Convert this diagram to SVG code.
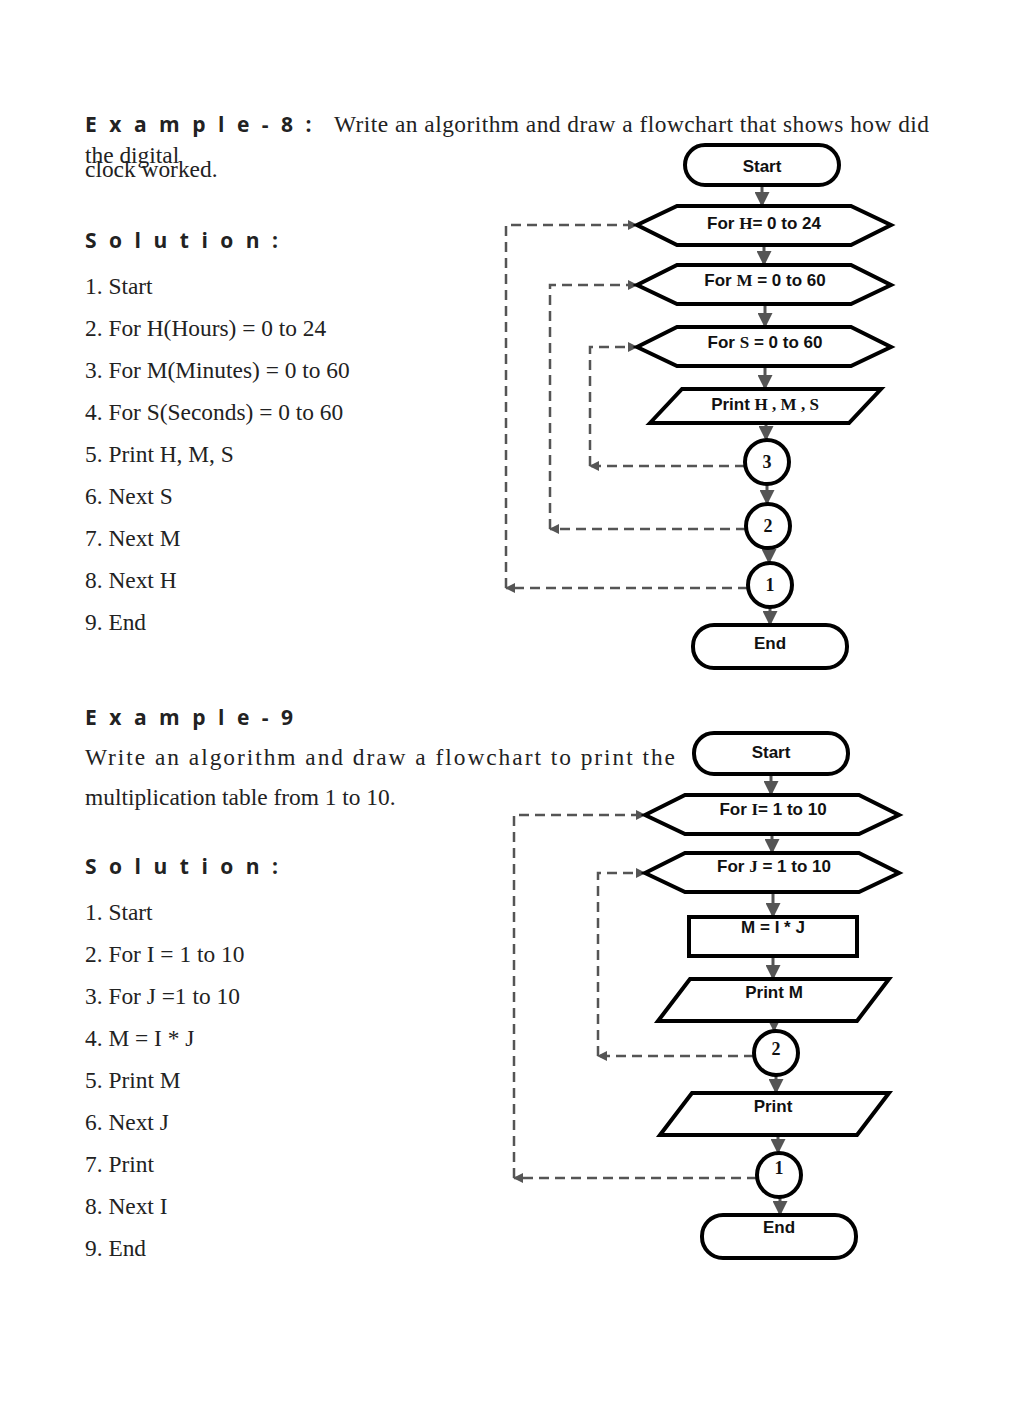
<svg xmlns="http://www.w3.org/2000/svg" width="1024" height="1408" viewBox="0 0 1024 1408">
<style>
.h{font-family:"Open Sans","DejaVu Sans",sans-serif;font-weight:bold;font-size:21px;letter-spacing:12.5px;fill:#222}
.b{font-family:"Liberation Serif",serif;font-size:23.4px;fill:#222}
.n{fill:#fff;stroke:#000;stroke-width:4}
.t{font-family:"Liberation Sans",Arial,sans-serif;font-weight:bold;font-size:17px;text-anchor:middle;fill:#111}
.c{font-family:"Liberation Serif",serif;font-weight:bold;font-size:18px;text-anchor:middle;fill:#111}
.a{stroke:#555;stroke-width:3;fill:none;marker-end:url(#ah)}
.d{stroke:#555;stroke-width:2.5;fill:none;stroke-dasharray:10,6}
</style>
<defs>
<marker id="ah" markerWidth="5" markerHeight="5" refX="4" refY="2.5" orient="auto"><path d="M0,0L5,2.5L0,5z" fill="#555"/></marker>
<marker id="dh" markerWidth="10" markerHeight="10" refX="9" refY="5" orient="auto" markerUnits="userSpaceOnUse"><path d="M0,0L10,5L0,10z" fill="#555"/></marker>
</defs>
<rect width="1024" height="1408" fill="#fff"/>
<g id="text">
<text x="85" y="132" class="h">Example-8:</text>
<text x="334" y="132" class="b" textLength="595" lengthAdjust="spacing">Write an algorithm and draw a flowchart that shows how did</text>
<text x="85" y="163" class="b">the digital</text>
<text x="85" y="177" class="b">clock worked.</text>
<text x="85" y="248" class="h">Solution:</text>
<text x="85" y="294" class="b">1. Start</text>
<text x="85" y="336" class="b">2. For H(Hours) = 0 to 24</text>
<text x="85" y="378" class="b">3. For M(Minutes) = 0 to 60</text>
<text x="85" y="420" class="b">4. For S(Seconds) = 0 to 60</text>
<text x="85" y="462" class="b">5. Print H, M, S</text>
<text x="85" y="504" class="b">6. Next S</text>
<text x="85" y="546" class="b">7. Next M</text>
<text x="85" y="588" class="b">8. Next H</text>
<text x="85" y="630" class="b">9. End</text>
<text x="85" y="725" class="h">Example-9</text>
<text x="85" y="765" class="b" textLength="590" lengthAdjust="spacing">Write an algorithm and draw a flowchart to print the</text>
<text x="85" y="805" class="b">multiplication table from 1 to 10.</text>
<text x="85" y="874" class="h">Solution:</text>
<text x="85" y="920" class="b">1. Start</text>
<text x="85" y="962" class="b">2. For I = 1 to 10</text>
<text x="85" y="1004" class="b">3. For J =1 to 10</text>
<text x="85" y="1046" class="b">4. M = I * J</text>
<text x="85" y="1088" class="b">5. Print M</text>
<text x="85" y="1130" class="b">6. Next J</text>
<text x="85" y="1172" class="b">7. Print</text>
<text x="85" y="1214" class="b">8. Next I</text>
<text x="85" y="1256" class="b">9. End</text>
</g>
<g id="connectors">
<path class="a" d="M762 185V204"/>
<path class="a" d="M764 245V263"/>
<path class="a" d="M765 304V325"/>
<path class="a" d="M765 366V387"/>
<path class="a" d="M766 423V438"/>
<path class="a" d="M767 484V502"/>
<path class="a" d="M769 548V561"/>
<path class="a" d="M770 607V623"/>
<path class="d" d="M745 466H590" marker-end="url(#dh)"/>
<path class="d" d="M590 466V347H637" marker-end="url(#dh)"/>
<path class="d" d="M746 529H550" marker-end="url(#dh)"/>
<path class="d" d="M550 529V285H637" marker-end="url(#dh)"/>
<path class="d" d="M748 588H506" marker-end="url(#dh)"/>
<path class="d" d="M506 588V225H637" marker-end="url(#dh)"/>
<path class="a" d="M771 774V793"/>
<path class="a" d="M772 834V851"/>
<path class="a" d="M773 892V915"/>
<path class="a" d="M773 956V977"/>
<path class="a" d="M774 1021V1029"/>
<path class="a" d="M776 1075V1091"/>
<path class="a" d="M778 1135V1151"/>
<path class="a" d="M780 1197V1213"/>
<path class="d" d="M754 1056H598" marker-end="url(#dh)"/>
<path class="d" d="M598 1056V873H645" marker-end="url(#dh)"/>
<path class="d" d="M757 1178H514" marker-end="url(#dh)"/>
<path class="d" d="M514 1178V815H645" marker-end="url(#dh)"/>
</g>
<g id="start1"><rect class="n" x="685" y="145" width="154" height="40" rx="20"/><text class="t" x="762" y="172">Start</text></g>
<g id="forH"><polygon class="n" points="637,225 677,206 851,206 891,225 851,245 677,245"/><text class="t" x="764" y="229">For <tspan font-family="Liberation Serif,serif">H</tspan>= 0 to 24</text></g>
<g id="forM"><polygon class="n" points="637,285 677,265 851,265 891,285 851,304 677,304"/><text class="t" x="765" y="286">For <tspan font-family="Liberation Serif,serif">M</tspan> = 0 to 60</text></g>
<g id="forS"><polygon class="n" points="637,347 677,327 851,327 891,347 851,366 677,366"/><text class="t" x="765" y="348">For <tspan font-family="Liberation Serif,serif">S</tspan> = 0 to 60</text></g>
<g id="printHMS"><polygon class="n" points="650,423 682,389 881,389 849,423"/><text class="t" x="765" y="410">Print <tspan font-family="Liberation Serif,serif">H , M , S</tspan></text></g>
<g id="c3"><circle class="n" cx="767" cy="462" r="22"/><text class="c" x="767" y="468">3</text></g>
<g id="c2"><circle class="n" cx="768" cy="526" r="22"/><text class="c" x="768" y="532">2</text></g>
<g id="c1"><circle class="n" cx="770" cy="585" r="22"/><text class="c" x="770" y="591">1</text></g>
<g id="end1"><rect class="n" x="693" y="625" width="154" height="43" rx="21"/><text class="t" x="770" y="649">End</text></g>
<g id="start2"><rect class="n" x="694" y="733" width="154" height="41" rx="20"/><text class="t" x="771" y="758">Start</text></g>
<g id="forI"><polygon class="n" points="645,815 685,795 859,795 899,815 859,834 685,834"/><text class="t" x="773" y="815">For <tspan font-family="Liberation Serif,serif">I</tspan>= 1 to 10</text></g>
<g id="forJ"><polygon class="n" points="645,873 685,853 859,853 899,873 859,892 685,892"/><text class="t" x="774" y="872">For <tspan font-family="Liberation Serif,serif">J</tspan> = 1 to 10</text></g>
<g id="calc"><rect class="n" x="689" y="917" width="168" height="39"/><text class="t" x="773" y="933">M = I * J</text></g>
<g id="printM"><polygon class="n" points="658,1021 690,979 889,979 857,1021"/><text class="t" x="774" y="998">Print M</text></g>
<g id="c2b"><circle class="n" cx="776" cy="1053" r="22"/><text class="c" x="776" y="1055">2</text></g>
<g id="print"><polygon class="n" points="660,1135 692,1093 889,1093 857,1135"/><text class="t" x="773" y="1112">Print</text></g>
<g id="c1b"><circle class="n" cx="779" cy="1175" r="22"/><text class="c" x="779" y="1174">1</text></g>
<g id="end2"><rect class="n" x="702" y="1215" width="154" height="43" rx="21"/><text class="t" x="779" y="1233">End</text></g>
</svg>
